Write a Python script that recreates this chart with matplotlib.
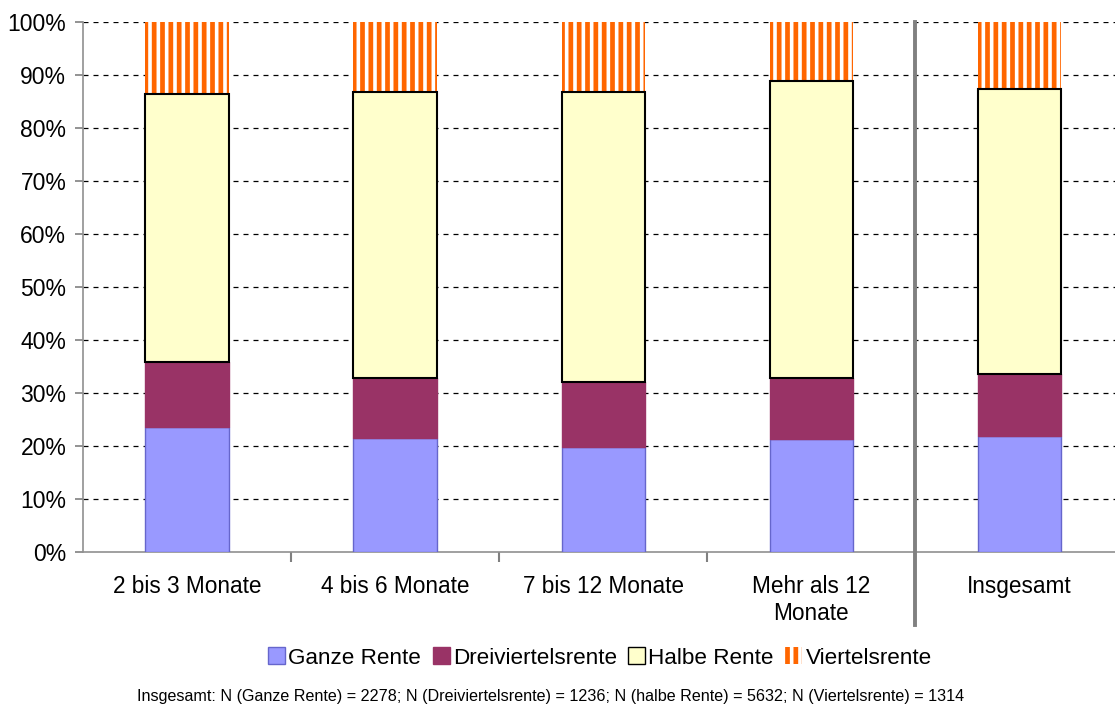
import matplotlib
matplotlib.use("Agg")
import matplotlib.pyplot as plt
import numpy as np
from matplotlib.patches import Patch

plt.rcParams['font.family'] = ['Liberation Sans', 'DejaVu Sans']
plt.rcParams['hatch.linewidth'] = 3.4

categories = ["2 bis 3 Monate", "4 bis 6 Monate", "7 bis 12 Monate", "Mehr als 12\nMonate", "Insgesamt"]
ganze = [23.6, 21.5, 19.8, 21.3, 21.8]
dreiviertel = [12.2, 11.3, 12.3, 11.5, 11.8]
halbe = [50.6, 54.0, 54.7, 56.1, 53.8]
viertel = [13.6, 13.2, 13.2, 11.1, 12.6]
series_names = ["Ganze Rente", "Dreiviertelsrente", "Halbe Rente", "Viertelsrente"]
yticks = list(range(0, 101, 10))
footnote = ("Insgesamt: N (Ganze Rente) = 2278; N (Dreiviertelsrente) = 1236; "
            "N (halbe Rente) = 5632; N (Viertelsrente) = 1314")

fig = plt.figure(figsize=(11.15, 7.04), dpi=100)
ax = fig.add_axes([83/1115, 1-552/704, 1-83/1115, (552-22)/704])

x = np.arange(len(categories))
w = 0.40
g = np.array(ganze); d = np.array(dreiviertel); h = np.array(halbe); v = np.array(viertel)

ax.bar(x, g, w, color='#9999FF', edgecolor='#6666CC', linewidth=1, zorder=3)
ax.bar(x, d, w, bottom=g, color='#993366', edgecolor='#993366', linewidth=1, zorder=3)
ax.bar(x, h, w, bottom=g+d, color='#FFFFCC', edgecolor='black', linewidth=1.5, zorder=3)
ax.bar(x, v, w, bottom=g+d+h, color='white', edgecolor='#FF6600', hatch='||', linewidth=0, zorder=2.9)

ax.set_xlim(-0.5, 4.46)
ax.set_ylim(0, 100)
ax.set_yticks(yticks)
ax.set_yticklabels([f"{t}%" for t in yticks], fontsize=16.5)
ax.set_xticks(x)
ax.set_xticklabels(categories, fontsize=16.3)
ax.tick_params(axis='x', length=0, pad=16.5)
ax.set_xticks(np.arange(0.5, 4.5, 1.0), minor=True)
ax.tick_params(axis='x', which='minor', length=7, color='#808080', width=1.5)
ax.tick_params(axis='y', length=6, color='#808080', width=1.2, pad=6)

for t in yticks[1:]:
    ax.axhline(t, color='black', linestyle=(0, (4, 4)), linewidth=0.9, zorder=1)

for s in ['top', 'right']:
    ax.spines[s].set_visible(False)
ax.spines['left'].set_color('#909090')
ax.spines['bottom'].set_color('#909090')
ax.spines['left'].set_linewidth(1.2)
ax.spines['bottom'].set_linewidth(1.2)

# separator before "Insgesamt"
ax.plot([3.5, 3.5], [1.0, -(625-552)/530], transform=ax.get_xaxis_transform(),
        color='#808080', linewidth=2.8, clip_on=False, zorder=5)

handles = [Patch(facecolor='#9999FF', edgecolor='#6666CC'),
           Patch(facecolor='#993366', edgecolor='#993366'),
           Patch(facecolor='#FFFFCC', edgecolor='black'),
           Patch(facecolor='white', edgecolor='#FF6600', hatch='||', linewidth=0)]
fig.legend(handles, series_names, loc='center', bbox_to_anchor=(600/1115, 1-658/704),
           ncol=4, frameon=False, fontsize=16.2, handlelength=0.75, handleheight=0.75,
           handletextpad=0.15, columnspacing=0.5)

fig.text(551/1115, 1-701/704, footnote, ha='center', va='baseline', fontsize=11.6)

fig.savefig("out.png", dpi=100)
